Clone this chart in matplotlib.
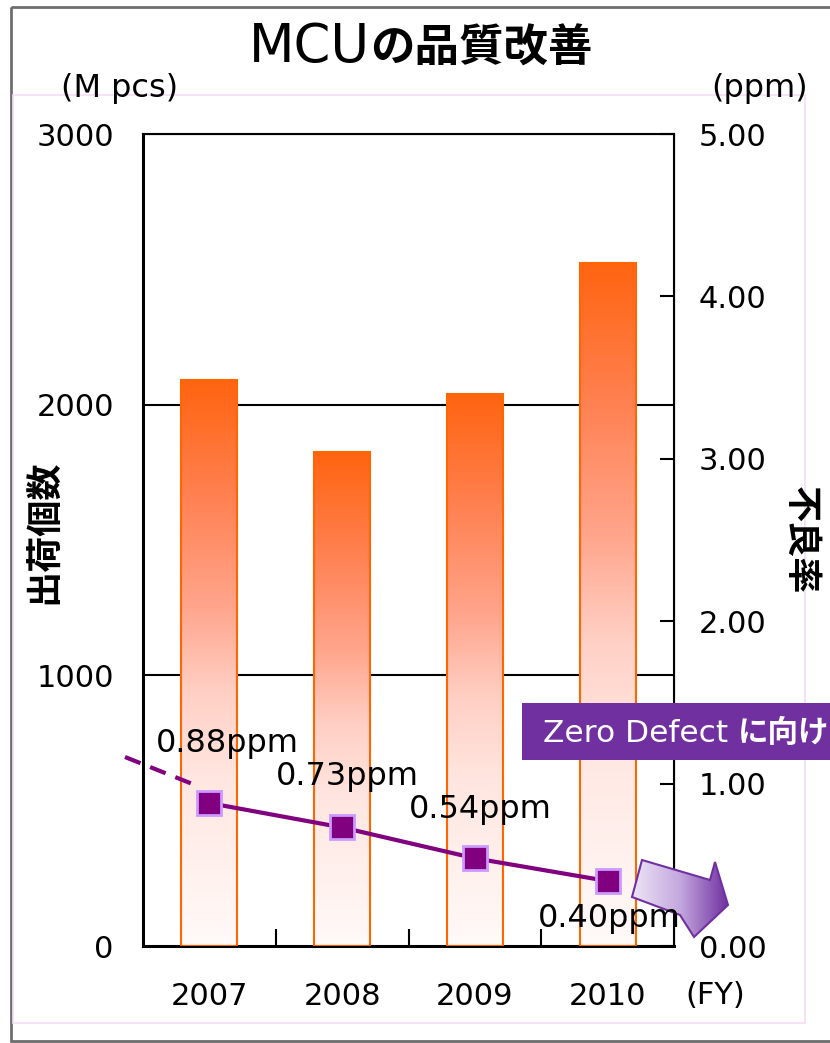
import numpy as np
import matplotlib.pyplot as plt
from matplotlib.colors import LinearSegmentedColormap
from matplotlib.patches import Rectangle, Polygon

plt.rcParams['font.family'] = ['DejaVu Sans', 'Noto Sans CJK JP']

# shipments (M pcs) and defect rate (ppm) per fiscal year
years = ['2007', '2008', '2009', '2010']
shipments = [2090, 1825, 2040, 2525]
defect_ppm = [0.88, 0.73, 0.54, 0.40]
ppm_labels = ['0.88ppm', '0.73ppm', '0.54ppm', '0.40ppm']
left_ticks = [0, 1000, 2000, 3000]
right_ticks = [0.0, 1.0, 2.0, 3.0, 4.0, 5.0]

W, H = 830, 1043
fig = plt.figure(figsize=(W / 100, H / 100), dpi=100)

# plot area in pixels: x 143..674, y 134..946
ax = fig.add_axes([143 / W, 1 - 946 / H, 531 / W, 812 / H])
ax2 = ax.twinx()

x = np.arange(len(years))
bw = 0.42

grad = LinearSegmentedColormap.from_list('bar', [
    (0.0, '#FFFAF9'), (0.30, '#FFE6E0'), (0.45, '#FFCFC4'),
    (0.60, '#FFA58C'), (0.80, '#FF8050'), (1.0, '#FF6410')])
g = np.linspace(0, 1, 256).reshape(-1, 1)

for xi, h in zip(x, shipments):
    ax.imshow(g, cmap=grad, origin='lower', aspect='auto', zorder=2,
              extent=[xi - bw / 2, xi + bw / 2, 0, h])
bars = ax.bar(x, shipments, width=bw, facecolor='none', edgecolor='#FF6600',
              linewidth=1.5, zorder=3)
ax.set_xlim(-0.5, len(years) - 0.5)
ax.set_ylim(0, 3000)

for yv in [1000, 2000]:
    ax.axhline(yv, color='black', linewidth=1.5, zorder=1)

ax.set_yticks(left_ticks)
ax.set_yticklabels([str(v) for v in left_ticks], fontsize=22)
ax.tick_params(axis='y', direction='in', length=0, pad=21)
ax.set_xticks(x)
ax.set_xticklabels(years, fontsize=22)
ax.tick_params(axis='x', length=0, pad=26)
ax.set_xticks([0.5, 1.5, 2.5], minor=True)
ax.tick_params(axis='x', which='minor', direction='in', length=12, width=1.5)

for s in ax.spines.values():
    s.set_linewidth(1.5)
ax.spines['left'].set_linewidth(2.2)
ax.spines['bottom'].set_linewidth(2.2)

ax2.plot(x, defect_ppm, color='#800080', linewidth=3, marker='s',
         markersize=17, markerfacecolor='#800080', markeredgecolor='#CC99FF',
         markeredgewidth=2, zorder=5)
ax2.set_ylim(0, 5)
ax2.set_yticks(right_ticks)
ax2.set_yticklabels(['%.2f' % v for v in right_ticks], fontsize=22)
ax2.tick_params(axis='y', direction='in', length=10, width=1.5, pad=18)
ax2.set_xlim(-0.5, len(years) - 0.5)

# overlay in pixel coordinates for frames, title and callouts
ov = fig.add_axes([0, 0, 1, 1], zorder=5)
ov.set_xlim(0, W)
ov.set_ylim(H, 0)
ov.axis('off')
ov.patch.set_alpha(0)

ov.add_patch(Rectangle((11, 7), 830, 1034, fill=False, edgecolor='#6E6E6E', linewidth=2))
ov.add_patch(Rectangle((13, 95), 792, 928, fill=False, edgecolor='#F5DDF5', linewidth=1.2))

ov.text(370, 62, 'MCU', ha='right', va='baseline', fontsize=38, family='DejaVu Sans')
ov.text(370, 62, 'の品質改善', ha='left', va='baseline', fontsize=32,
        weight='bold', family='Noto Sans CJK JP')

ov.text(120, 88, '(M pcs)', ha='center', va='center', fontsize=23)
ov.text(760, 88, '(ppm)', ha='center', va='center', fontsize=23)
ov.text(715, 996, '(FY)', ha='center', va='center', fontsize=22)

ov.text(45, 532, '出荷個数', ha='center', va='center', rotation=90, fontsize=26,
        weight='bold', family='Noto Sans CJK JP')
ov.text(800, 540, '不良率', ha='center', va='center', rotation=270, fontsize=26,
        weight='bold', family='Noto Sans CJK JP')

# earlier trend, dashed
ov.plot([125, 195], [757, 785], color='#800080', linewidth=3, linestyle=(0, (4, 2.5)))

# "Zero Defect" banner
ov.add_patch(Rectangle((522, 703), 320, 57, facecolor='#7030A0', edgecolor='none'))
t1 = ov.text(543, 733, 'Zero Defect ', ha='left', va='center', fontsize=22.5,
             color='white', family='DejaVu Sans')
fig.canvas.draw()
x_end = t1.get_window_extent().x1
ov.annotate('に向け', xy=(x_end, H - 733), xycoords='figure pixels',
            ha='left', va='center', fontsize=22, color='white', weight='bold',
            family='Noto Sans CJK JP')

# block arrow with horizontal gradient
arrow_pts = [(642, 860), (710, 880), (715, 862), (728, 905), (694, 937),
             (680, 915), (632, 897)]
arrow = Polygon(arrow_pts, closed=True, facecolor='none', edgecolor='#7030A0',
                linewidth=1.5, zorder=4)
acmap = LinearSegmentedColormap.from_list('arr', ['#EEE4F6', '#C4A8DE', '#7030A0'])
img = ov.imshow(np.linspace(0, 1, 256).reshape(1, -1), cmap=acmap, aspect='auto',
                extent=[632, 728, 937, 860], zorder=3)
img.set_clip_path(Polygon(arrow_pts, closed=True, transform=ov.transData))
ov.add_patch(arrow)
ov.set_xlim(0, W)
ov.set_ylim(H, 0)

# value labels next to the markers
offsets = [(13, 43), (4, 37), (4, 35), (1, -27)]
for xi, v, lab, off in zip(x, defect_ppm, ppm_labels, offsets):
    ov.annotate(lab, xy=(xi, v), xycoords=ax2.transData, xytext=off,
                textcoords='offset points', ha='center', va='center',
                fontsize=23, zorder=6)

fig.savefig('out.png', dpi=100)
